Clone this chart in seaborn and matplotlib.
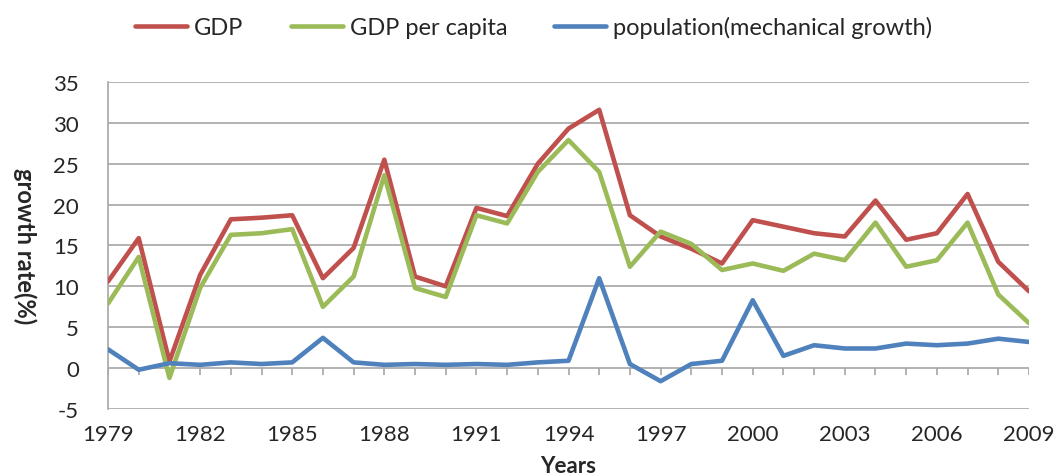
import pandas as pd
import seaborn as sns
import matplotlib.pyplot as plt

# growth rates (%)
years = list(range(1979, 2010))
gdp = [10.6, 15.9, 0.8, 11.4, 18.2, 18.4, 18.7, 11.0, 14.7, 25.5,
       11.2, 10.0, 19.6, 18.6, 25.0, 29.3, 31.6, 18.7, 16.1, 14.6,
       12.8, 18.1, 17.3, 16.5, 16.1, 20.5, 15.7, 16.5, 21.3, 13.0, 9.4]
gdp_pc = [7.9, 13.6, -1.2, 9.8, 16.3, 16.5, 17.0, 7.5, 11.2, 23.6,
          9.8, 8.7, 18.7, 17.7, 24.0, 27.9, 24.0, 12.4, 16.7, 15.2,
          12.0, 12.8, 11.9, 14.0, 13.2, 17.8, 12.4, 13.2, 17.8, 9.0, 5.5]
population = [2.3, -0.2, 0.6, 0.4, 0.7, 0.5, 0.7, 3.7, 0.7, 0.4,
              0.5, 0.4, 0.5, 0.4, 0.7, 0.9, 11.0, 0.5, -1.6, 0.5,
              0.9, 8.3, 1.5, 2.8, 2.4, 2.4, 3.0, 2.8, 3.0, 3.6, 3.2]
series_names = ['GDP', 'GDP per capita', 'population(mechanical growth)']
colors = ['#C0504D', '#9BBB59', '#4F81BD']
xticks = list(range(1979, 2010, 3))

df = pd.DataFrame({'Year': years, series_names[0]: gdp,
                   series_names[1]: gdp_pc, series_names[2]: population})
long_df = df.melt(id_vars='Year', var_name='series', value_name='rate')

sns.set_style('white')
plt.rcParams['font.family'] = ['Lato', 'DejaVu Sans']
plt.rcParams['axes.unicode_minus'] = False

fig = plt.figure(figsize=(10.57, 4.77), dpi=100)
ax = fig.add_axes([0.1022, 0.1405, 0.8713, 0.6855])

grid_c = '#A6A6A6'
for v in range(-5, 36, 5):
    ax.axhline(v, color=grid_c, lw=1.2, zorder=0)
ax.vlines(years, -0.9, 0, color=grid_c, lw=1.2, zorder=0)

sns.lineplot(data=long_df, x='Year', y='rate', hue='series',
             hue_order=series_names, palette=colors, linewidth=3.3,
             ax=ax, zorder=3)

ax.set_xlim(1979, 2009)
ax.set_ylim(-5, 35)
ax.set_yticks(range(-5, 36, 5))
ax.set_xticks(xticks)
for s in ['top', 'right', 'bottom']:
    ax.spines[s].set_visible(False)
ax.spines['left'].set_color(grid_c)
ax.spines['left'].set_linewidth(1.2)
ax.tick_params(axis='y', length=6, color=grid_c, width=1.2, labelsize=16, pad=15)
ax.tick_params(axis='x', length=0, labelsize=16, pad=11)
ax.set_xlabel('Years', fontsize=16, fontweight='bold', labelpad=8)
ax.set_ylabel('growth rate(%)', fontsize=17, fontweight='bold',
              rotation=270, va='center')
ax.yaxis.set_label_coords(-0.09, 0.5)

ax.legend(loc='center', bbox_to_anchor=(0.505, 0.941),
          bbox_transform=fig.transFigure, ncol=3, frameon=False,
          fontsize=17, handlelength=2.2, columnspacing=2.0, handletextpad=0.3)

plt.savefig('out.png', dpi=100)
